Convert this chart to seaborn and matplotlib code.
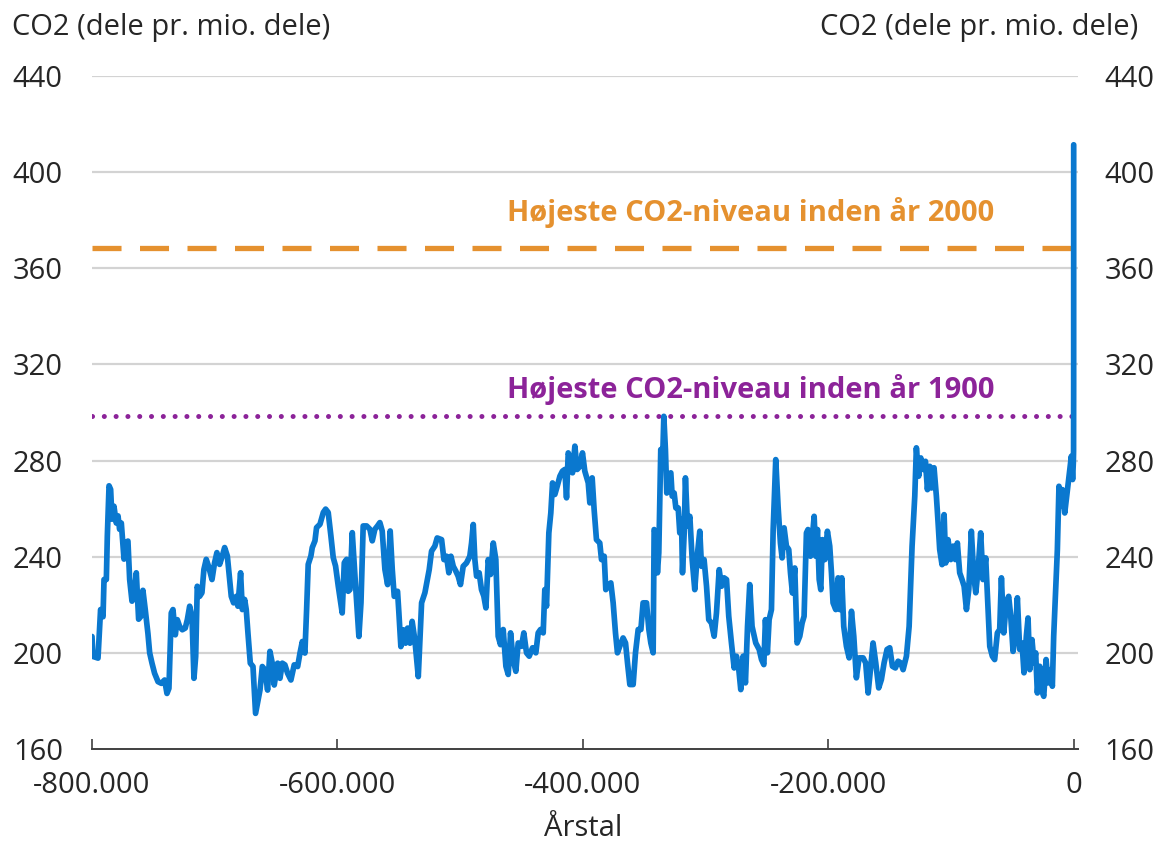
import matplotlib
matplotlib.use("Agg")
import matplotlib.pyplot as plt
import matplotlib.transforms as mtransforms
from matplotlib.ticker import FuncFormatter
import seaborn as sns
import pandas as pd

# ---- data (thousand years before present, ppm) ----
year_kyr = [
    -800.0, -799.2, -795.1, -793.0, -791.0, -790.2, -788.3, -787.5, -786.1, -784.8,
    -783.7, -782.1, -780.2, -778.8, -777.5, -776.1, -773.9, -772.0, -770.7, -769.3,
    -767.4, -765.8, -763.9, -762.0, -760.4, -758.5, -756.6, -754.4, -753.0, -751.1,
    -749.0, -746.2, -743.5, -740.8, -738.9, -737.3, -735.4, -734.0, -732.1, -730.5,
    -728.6, -726.4, -724.0, -722.3, -720.4, -718.5, -716.9, -715.5, -714.2, -712.3,
    -710.4, -708.8, -706.9, -705.0, -702.2, -700.1, -698.2, -696.0, -693.8, -691.9,
    -689.7, -687.8, -686.5, -684.6, -682.4, -681.1, -678.9, -677.5, -675.6, -674.3,
    -672.9, -671.0, -668.8, -666.7,
    -663.1, -661.2, -659.1, -656.9, -655.0, -653.1, -651.5, -648.7, -646.8, -644.9,
    -642.8, -640.6, -637.9, -635.2, -632.4, -630.5, -628.6, -626.5, -625.1, -623.8,
    -621.6, -620.5, -618.3, -617.0, -614.2, -611.5, -609.6, -607.5, -605.3, -603.4,
    -601.5, -599.3, -596.1, -594.4, -592.5, -591.2, -589.8, -587.9, -585.7, -582.5,
    -580.8, -579.0, -576.2, -573.5, -571.6, -569.5, -567.3, -565.4, -563.5, -561.3,
    -559.1, -557.0, -555.3, -553.7, -551.0, -549.9, -548.3, -546.4, -544.5, -542.8,
    -540.9, -539.1, -536.9, -534.1, -531.4, -528.7,
    -525.2, -523.3, -520.6, -518.7, -515.1, -513.2, -511.1, -509.2, -507.5, -505.6,
    -503.5, -501.6, -499.7, -497.5, -494.8, -492.1, -490.7, -489.3, -488.0, -486.6,
    -484.5, -482.6, -480.7, -479.0, -477.1, -475.2, -473.0, -470.9, -469.0, -467.1,
    -464.9, -462.7, -460.8, -458.9, -456.8, -454.6, -452.7, -450.0, -448.1, -445.9,
    -443.7, -441.0, -438.3, -436.4, -434.5, -432.3, -431.0, -429.6, -427.7, -426.1,
    -424.7, -422.8, -420.9, -418.7, -416.6, -414.7, -413.3, -411.9, -410.0, -408.4,
    -406.5, -404.6, -402.4, -400.3, -398.4, -395.6,
    -394.3, -392.4, -390.8, -388.9, -386.2, -384.8, -382.6, -381.3, -379.4, -377.2,
    -375.3, -373.4, -371.8, -369.9, -367.2, -365.2, -363.6, -361.7, -359.0, -357.1,
    -354.9, -352.7, -350.9, -348.1, -346.2, -344.6, -342.7, -341.9, -340.5, -339.2,
    -338.1, -336.5, -335.1, -334.0, -332.7, -331.6, -329.9, -328.3, -327.2, -325.6,
    -324.2, -322.3, -321.0, -319.6, -318.8, -317.4, -316.4, -314.7, -312.8, -310.9,
    -308.8, -306.8, -304.7, -303.3, -301.2, -299.2, -297.4, -295.2, -293.0, -291.1,
    -288.9, -287.0, -284.9, -282.9, -281.1, -278.9, -276.7, -274.8, -272.9, -271.3,
    -269.4, -267.5, -265.8, -264.0, -262.1,
    -259.1, -256.3, -254.4, -252.5, -251.2, -249.6, -248.2, -246.3, -244.9, -242.8,
    -240.9, -239.0, -237.6, -236.0, -234.1, -232.2, -230.8, -229.2, -227.3, -225.4,
    -223.2, -221.3, -219.7, -217.8, -216.5, -214.5, -212.9, -211.5, -210.2, -208.8,
    -207.4, -206.1, -204.8, -202.8, -200.7, -198.8, -197.4, -196.1, -193.9, -192.0,
    -190.6, -189.0, -187.4, -185.2, -183.0, -181.1, -179.2, -177.1, -174.9, -171.6,
    -169.5, -167.5, -165.6, -163.5, -161.3, -158.9, -156.7, -154.5, -152.1, -149.9,
    -147.7, -145.3, -143.1, -140.9, -139.0, -136.3, -134.1,
    -133.6, -131.7, -129.5, -128.2, -126.3, -124.6, -122.7, -120.8, -119.2, -117.3,
    -115.9, -113.8, -111.9, -110.5, -109.2, -107.3, -105.6, -104.3, -102.4, -100.2,
    -98.3, -96.4, -94.8, -92.9, -91.0, -89.3, -87.4, -85.5, -83.4, -81.4,
    -79.8, -77.9, -75.8, -73.9, -71.7, -69.8, -68.4, -66.3, -64.4, -62.2,
    -60.3, -58.9, -57.0, -54.9, -53.0, -51.3, -49.4, -47.5, -45.9, -44.0,
    -42.1, -40.5, -38.6, -37.2, -35.8, -34.0, -32.3, -31.0, -29.6, -27.7,
    -26.3, -24.4, -22.5, -20.9, -19.0, -17.4, -16.3, -14.9, -13.3, -12.0,
    -10.6, -9.2, -7.3, -5.4, -3.8, -1.9, -0.9, -0.3, -0.1, -0.05,
    -0.02, 0.0,
]
co2_ppm = [
    206.8, 198.5, 197.8, 218.0, 215.0, 230.5, 230.5, 248.6, 269.5, 268.0,
    255.6, 261.0, 254.0, 257.0, 251.4, 254.0, 239.0, 246.0, 246.5, 230.5,
    221.5, 223.5, 233.3, 214.0, 215.0, 226.0, 218.0, 208.0, 200.0, 195.7,
    191.5, 188.0, 187.3, 188.7, 183.1, 185.2, 216.6, 218.0, 207.5, 213.8,
    211.0, 209.6, 210.3, 213.8, 219.4, 215.0, 189.4, 198.5, 227.7, 223.5,
    225.0, 234.7, 238.9, 236.0, 230.5, 237.5, 241.7, 236.8, 240.3, 243.8,
    240.3, 230.5, 223.5, 220.8, 223.5, 219.4, 233.3, 218.0, 222.2, 218.0,
    208.2, 195.7, 194.3, 174.8,
    184.5, 194.3, 192.9, 184.5, 200.6, 195.7, 186.6, 195.7, 189.4, 195.7,
    195.0, 191.5, 188.7, 195.0, 194.3, 199.9, 204.7, 199.9, 218.0, 236.8,
    240.3, 243.8, 246.6, 252.1, 253.5, 258.4, 259.8, 258.4, 248.6, 239.6,
    236.1, 227.7, 216.6, 237.5, 238.9, 225.6, 226.3, 250.0, 231.9, 206.8,
    220.8, 252.8, 252.8, 251.4, 246.6, 251.4, 252.8, 254.2, 250.7, 234.7,
    228.4, 250.7, 234.7, 223.5, 225.6, 216.6, 202.6, 209.6, 204.0, 210.3,
    204.0, 213.1, 205.4, 190.1, 220.8, 225.0,
    234.6, 242.3, 244.4, 247.8, 247.1, 238.8, 240.2, 233.3, 240.2, 236.0,
    234.0, 231.9, 228.4, 236.0, 237.4, 240.2, 245.7, 253.4, 238.8, 231.9,
    233.3, 226.3, 223.6, 218.7, 238.8, 232.6, 245.7, 238.8, 206.9, 203.4,
    209.7, 194.4, 191.0, 208.3, 197.2, 192.3, 204.1, 202.7, 208.3, 200.0,
    198.6, 202.1, 200.0, 208.3, 209.7, 208.3, 226.3, 219.4, 249.9, 258.2,
    270.7, 265.9, 269.3, 273.5, 275.6, 276.3, 264.5, 283.2, 280.4, 274.9,
    286.0, 276.3, 277.6, 283.2, 275.6, 270.7,
    262.4, 272.8, 259.6, 247.1, 245.7, 238.8, 240.2, 226.3, 227.7, 229.1,
    220.8, 208.3, 200.0, 202.7, 206.2, 204.1, 195.8, 186.8, 186.8, 200.0,
    209.7, 209.7, 220.8, 220.8, 209.7, 204.1, 200.0, 251.3, 249.9, 233.3,
    241.6, 284.6, 277.6, 298.4, 284.6, 266.5, 274.2, 274.9, 265.2, 266.5,
    260.3, 260.3, 249.9, 255.5, 233.3, 249.9, 272.8, 252.7, 256.8, 238.8,
    226.3, 240.2, 250.6, 236.0, 238.8, 227.7, 213.8, 212.4, 206.9, 216.6,
    234.6, 227.7, 231.2, 230.5, 215.2, 204.1, 193.7, 198.6, 193.0, 184.7,
    198.6, 187.5, 211.0, 228.4, 211.0,
    204.1, 201.4, 197.2, 195.1, 213.8, 200.0, 213.8, 218.0, 251.3, 280.4,
    261.0, 245.7, 239.5, 252.0, 244.4, 243.0, 233.3, 224.9, 235.3, 204.1,
    206.9, 212.4, 215.2, 249.9, 251.3, 240.2, 248.5, 256.8, 240.2, 251.3,
    230.5, 226.3, 247.1, 238.8, 250.6, 244.4, 233.3, 220.8, 218.0, 231.2,
    218.0, 231.2, 211.0, 202.7, 197.9, 217.3, 206.9, 189.6, 197.9, 197.9,
    195.8, 183.3, 193.0, 204.1, 195.8, 185.4, 188.9, 195.8, 201.4, 202.1,
    194.4, 193.7, 196.5, 195.8, 193.0, 198.6, 211.0,
    218.0, 244.4, 265.2, 285.3, 273.5, 281.1, 276.3, 279.7, 267.9, 277.6,
    268.6, 277.0, 265.2, 254.1, 243.0, 236.7, 257.5, 237.4, 247.1, 238.8,
    244.4, 238.8, 245.7, 233.3, 230.5, 227.7, 218.0, 226.3, 250.6, 231.9,
    225.0, 234.6, 249.9, 230.5, 239.5, 218.0, 202.7, 198.6, 197.2, 208.3,
    209.7, 231.2, 208.3, 220.8, 223.5, 215.2, 200.6, 208.3, 222.9, 201.4,
    204.1, 191.7, 206.9, 214.5, 193.0, 205.5, 195.8, 200.0, 183.3, 194.4,
    184.7, 181.9, 197.2, 187.5, 193.0, 186.1, 206.9, 223.5, 243.0, 269.3,
    261.0, 267.9, 258.2, 266.5, 273.5, 281.8, 272.1, 279.0, 284.0, 300.0,
    312.0, 411.4,
]

max_before_2000 = 368.5
max_before_1900 = 298.6

y_ticks = [160, 200, 240, 280, 320, 360, 400, 440]
x_ticks = [-800000, -600000, -400000, -200000, 0]

axis_title = "CO2 (dele pr. mio. dele)"
x_title = "Årstal"
label_2000 = "Højeste CO2-niveau inden år 2000"
label_1900 = "Højeste CO2-niveau inden år 1900"

# ---- style ----
sns.set_style("white")
plt.rcParams["font.family"] = ["Open Sans", "DejaVu Sans"]

BLUE = "#0A78CF"
ORANGE = "#E5912F"
PURPLE = "#8C2399"
GRID = "#D3D3D3"
FS = 21

df = pd.DataFrame({"year": [v * 1000 for v in year_kyr], "co2": co2_ppm})

fig = plt.figure(figsize=(11.6, 8.42), dpi=100)
ax = fig.add_axes([0.0793, 0.1105, 0.85, 0.7992])

ax.set_xlim(-800000, 3500)
ax.set_ylim(160, 440)

for yv in y_ticks[1:]:
    ax.axhline(yv, color=GRID, lw=1.6, zorder=0)

# reference lines
ax.plot([-800000, 0], [max_before_2000, max_before_2000], color=ORANGE, lw=3.8,
        dashes=(5.5, 3.5), zorder=2)
ax.plot([-800000, 0], [max_before_1900, max_before_1900], color=PURPLE, lw=3.6,
        dashes=(0.01, 2.35), dash_capstyle="round", zorder=2)

sns.lineplot(data=df, x="year", y="co2", ax=ax, color=BLUE, lw=4.1,
             sort=False, estimator=None, zorder=3)
ax.lines[-1].set_solid_joinstyle("round")

trans = mtransforms.blended_transform_factory(ax.transAxes, ax.transData)
ax.text(0.9155, 383.4, label_2000, transform=trans, ha="right", va="center",
        color=ORANGE, fontsize=FS, fontweight="bold")
ax.text(0.9155, 309.4, label_1900, transform=trans, ha="right", va="center",
        color=PURPLE, fontsize=FS, fontweight="bold")

# axes styling
for s in ["top", "right", "left"]:
    ax.spines[s].set_visible(False)
ax.spines["bottom"].set_color("#404040")
ax.spines["bottom"].set_linewidth(1.4)
ax.set_yticks(y_ticks)
ax.set_xticks(x_ticks)
ax.xaxis.set_major_formatter(FuncFormatter(
    lambda v, p: "0" if v == 0 else f"{int(v):,}".replace(",", ".")))
ax.tick_params(axis="x", direction="in", length=7, width=1.2, color="#404040",
               pad=16, labelsize=FS, bottom=True)
ax.tick_params(axis="y", length=0, pad=21, labelsize=FS)
ax.set_xlabel("")
ax.set_ylabel("")

ax2 = ax.twinx()
ax2.set_ylim(160, 440)
ax2.set_yticks(y_ticks)
for s in ["top", "right", "left", "bottom"]:
    ax2.spines[s].set_visible(False)
ax2.tick_params(axis="y", length=0, pad=19, labelsize=FS)

fig.text(12 / 1160, 1 - 28 / 842, axis_title, ha="left", va="center", fontsize=FS)
fig.text(1138 / 1160, 1 - 28 / 842, axis_title, ha="right", va="center", fontsize=FS)
fig.text(583 / 1160, 1 - 829 / 842, x_title, ha="center", va="center", fontsize=FS)

fig.savefig("out.png", dpi=100)
